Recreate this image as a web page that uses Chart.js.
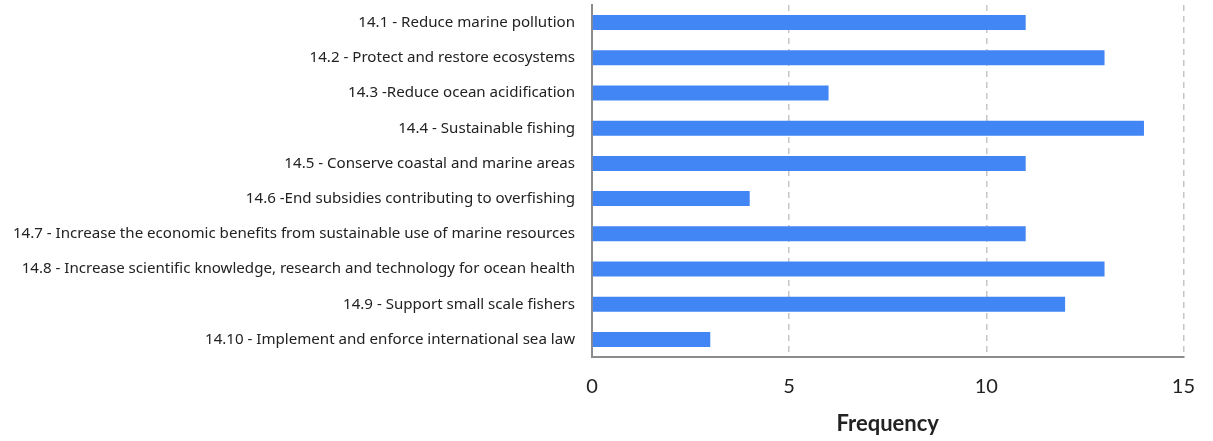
<!DOCTYPE html>
<html>
<head>
<meta charset="utf-8">
<script src="https://cdn.jsdelivr.net/npm/chart.js@4.4.1/dist/chart.umd.min.js"></script>
<style>
  html, body { margin: 0; padding: 0; background: #ffffff; }
  #wrap { width: 1213px; height: 441px; position: relative; }
</style>
</head>
<body>
<div id="wrap"><canvas id="chart"></canvas></div>
<script>
// SDG 14 targets and how often each was cited
const targets = [
  "14.1 - Reduce marine pollution",
  "14.2 - Protect and restore ecosystems",
  "14.3 -Reduce ocean acidification",
  "14.4 - Sustainable fishing",
  "14.5 - Conserve coastal and marine areas",
  "14.6 -End subsidies contributing to overfishing",
  "14.7 - Increase the economic benefits from sustainable use of marine resources",
  "14.8 - Increase scientific knowledge, research and technology for ocean health",
  "14.9 - Support small scale fishers",
  "14.10 - Implement and enforce international sea law"
];
const frequency = [11, 13, 6, 14, 11, 4, 11, 13, 12, 3];
const axisTitle = "Frequency";
const xMin = 0;
const xMax = 15;
const xStep = 5;

const AXIS_GREY = "#8c8c8c";
const GRID_GREY = "#c6c6c6";
const TEXT = "#222222";

new Chart(document.getElementById("chart"), {
  type: "bar",
  data: {
    labels: targets,
    datasets: [{
      data: frequency,
      backgroundColor: "#4285f4",
      borderWidth: 0,
      barPercentage: 0.85,
      categoryPercentage: 0.5
    }]
  },
  options: {
    indexAxis: "y",
    responsive: true,
    maintainAspectRatio: false,
    animation: false,
    layout: { padding: { top: 5, right: 26, bottom: 0, left: 0 } },
    plugins: {
      legend: { display: false },
      tooltip: { enabled: false }
    },
    scales: {
      x: {
        min: xMin,
        max: xMax,
        ticks: {
          stepSize: xStep,
          color: TEXT,
          padding: 18,
          font: { family: "Lato", size: 20 }
        },
        grid: {
          drawTicks: false,
          lineWidth: 1.5,
          color: (ctx) => (ctx.tick && ctx.tick.value === 0 ? "rgba(0,0,0,0)" : GRID_GREY)
        },
        border: { display: true, color: AXIS_GREY, width: 2, dash: [6, 5] },
        title: {
          display: true,
          text: axisTitle,
          color: TEXT,
          font: { family: "Lato", size: 22, weight: "bold" },
          padding: { top: 4, bottom: 4 }
        },
        afterFit: (scale) => { scale.height = 84; }
      },
      y: {
        ticks: {
          color: TEXT,
          padding: 17,
          font: { family: "Noto Sans", size: 15.1 }
        },
        grid: { display: false, drawTicks: false },
        border: { display: true, color: AXIS_GREY, width: 2 },
        afterFit: (scale) => {
          scale.width = 592;
          scale.paddingTop = 0;
          scale.paddingBottom = 0;
        }
      }
    }
  }
});
</script>
</body>
</html>
